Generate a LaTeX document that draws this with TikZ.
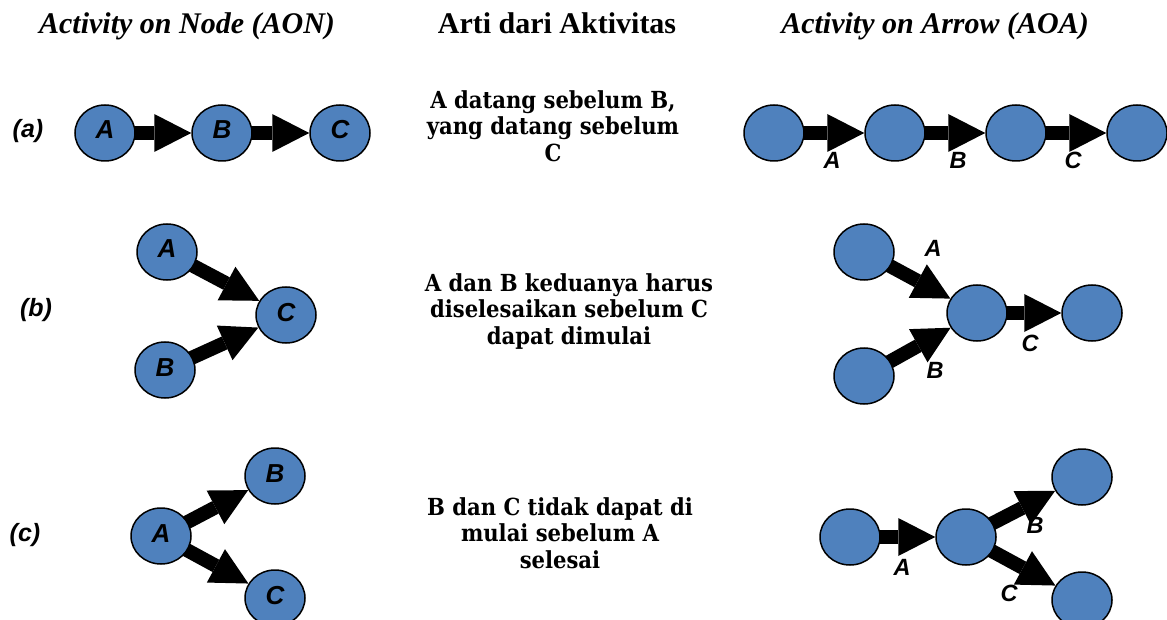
\documentclass[tikz,border=0pt]{standalone}
\usepackage{fontspec}
\setmainfont{Liberation Serif}
\newfontfamily\sansbi{Liberation Sans}
\newfontfamily\midfont{DejaVu Serif Condensed}
\usetikzlibrary{arrows.meta,backgrounds,shapes.geometric}
\definecolor{nodeblue}{RGB}{79,129,189}
\tikzset{
  evt/.style={ellipse, draw=black, line width=1.5pt, fill=nodeblue,
    minimum width=60pt, minimum height=56pt, inner sep=0pt,
    font=\sansbi\bfseries\itshape\fontsize{26}{26}\selectfont,
    text height=18.5pt, text depth=6.5pt},
  flow/.style={line width=14pt,
    -{Triangle[width=38pt,length=37pt,line width=0pt]}, shorten <=-8pt},
  lab/.style={font=\sansbi\bfseries\itshape\fontsize{23.5}{23.5}\selectfont, inner sep=0pt},
  rowlab/.style={font=\sansbi\bfseries\itshape\fontsize{25}{25}\selectfont, inner sep=0pt},
  head/.style={font=\fontsize{30}{30}\selectfont\bfseries, inner sep=0pt, anchor=base},
  mean/.style={font=\midfont\bfseries\fontsize{23.5}{26.5}\selectfont, align=center,
    inner sep=0pt, anchor=north},
}
\begin{document}
\begin{tikzpicture}[x=1pt,y=-1pt]
\useasboundingbox (0,0) rectangle (1167,620);

% column headings
\node[head] (h1) at (187,34) {\itshape Activity on Node (AON)};
\node[head] (h2) at (557,34) {Arti dari Aktivitas};
\node[head] (h3) at (935,34) {\itshape Activity on Arrow (AOA)};

% row labels
\node[rowlab] (ra) at (28,131) {(a)};
\node[rowlab] (rb) at (36,310) {(b)};
\node[rowlab] (rc) at (25,535) {(c)};

% ---------- row (a)
\node[evt] (a1) at (105,133) {A};
\node[evt] (a2) at (222,133) {B};
\node[evt] (a3) at (340,133) {C};
\node[mean] (ma) at (553,90) {A datang sebelum B,\\yang datang sebelum\\C};
\node[evt] (e1) at (774,133) {};
\node[evt] (e2) at (895,133) {};
\node[evt] (e3) at (1016,133) {};
\node[evt] (e4) at (1137,133) {};
\node[lab] (la1) at (832,160) {A};
\node[lab] (la2) at (958,160) {B};
\node[lab] (la3) at (1073,160) {C};

% ---------- row (b)
\node[evt] (b1) at (167,252) {A};
\node[evt] (b3) at (286,315) {C};
\node[evt] (b2) at (165,370) {B};
\node[mean] (mb) at (569,273) {A dan B keduanya harus\\diselesaikan sebelum C\\dapat dimulai};
\node[evt] (f1) at (864,252) {};
\node[evt] (f2) at (977,313) {};
\node[evt] (f3) at (1092,313) {};
\node[evt] (f4) at (864,376) {};
\node[lab] (lb1) at (933,248) {A};
\node[lab] (lb2) at (935,370) {B};
\node[lab] (lb3) at (1030,343) {C};

% ---------- row (c)
\node[evt] (c2) at (275,476) {B};
\node[evt] (c1) at (161,536) {A};
\node[evt] (c3) at (275,598) {C};
\node[mean] (mc) at (560,497) {B dan C tidak dapat di\\mulai sebelum A\\selesai};
\node[evt] (g1) at (850,537) {};
\node[evt] (g2) at (966,537) {};
\node[evt] (g3) at (1082,477) {};
\node[evt] (g4) at (1082,600) {};
\node[lab] (lc1) at (902,567) {A};
\node[lab] (lc2) at (1035,525) {B};
\node[lab] (lc3) at (1009,593) {C};

% arrows run beneath the event circles
\begin{scope}[on background layer]
  \draw[flow] (a1) -- (a2);
  \draw[flow] (a2) -- (a3);
  \draw[flow] (e1) -- (e2);
  \draw[flow] (e2) -- (e3);
  \draw[flow] (e3) -- (e4);
  \draw[flow] (b1) -- (b3);
  \draw[flow] (b2) -- (b3);
  \draw[flow] (f1) -- (f2);
  \draw[flow] (f4) -- (f2);
  \draw[flow] (f2) -- (f3);
  \draw[flow] (c1) -- (c2);
  \draw[flow] (c1) -- (c3);
  \draw[flow] (g1) -- (g2);
  \draw[flow] (g2) -- (g3);
  \draw[flow] (g2) -- (g4);
\end{scope}
\end{tikzpicture}
\end{document}
